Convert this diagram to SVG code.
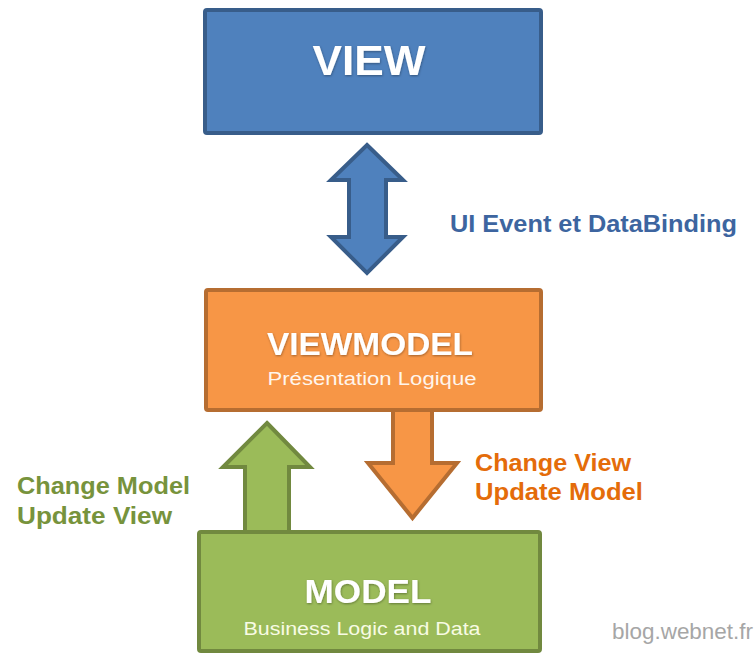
<svg xmlns="http://www.w3.org/2000/svg" width="756" height="655" viewBox="0 0 756 655">
<defs>
<style>
.title{font-family:"Liberation Sans",Arial,sans-serif;font-weight:bold;fill:#ffffff;text-anchor:middle;filter:url(#sh);}
.sub{font-family:"Liberation Sans",Arial,sans-serif;font-size:18px;text-anchor:middle;}
.lbl{font-family:"Liberation Sans",Arial,sans-serif;font-weight:bold;font-size:24px;}
.box{stroke-width:4;}
.arrow{stroke-width:4;stroke-linejoin:miter;}
</style>
<filter id="sh" x="-10%" y="-20%" width="120%" height="140%">
<feDropShadow dx="0.5" dy="1" stdDeviation="1" flood-color="#000000" flood-opacity="0.35"/>
</filter>
</defs>
<rect width="756" height="655" fill="#ffffff"/>
<g id="connectors">
<path class="arrow" d="M367,145 L403,180 L386,180 L386,237 L403,237 L367,273 L331,237 L349,237 L349,180 L331,180 Z" fill="#4f81bd" stroke="#385d8a"/>
<path class="arrow" d="M393,410 L432,410 L432,463 L457,463 L412.5,518 L368,463 L393,463 Z" fill="#f79646" stroke="#b66d31"/>
<path class="arrow" d="M267,423 L310,467 L289,467 L289,534 L245,534 L245,467 L223,467 Z" fill="#9bbb59" stroke="#71893f"/>
<text class="lbl" x="450" y="232" fill="#3d65a0" textLength="287" lengthAdjust="spacingAndGlyphs">UI Event et DataBinding</text>
<text class="lbl" x="475" y="471" fill="#e46c0a" textLength="156" lengthAdjust="spacingAndGlyphs">Change View</text>
<text class="lbl" x="475" y="500" fill="#e46c0a" textLength="168" lengthAdjust="spacingAndGlyphs">Update Model</text>
<text class="lbl" x="17" y="494" fill="#77933c" textLength="173" lengthAdjust="spacingAndGlyphs">Change Model</text>
<text class="lbl" x="17" y="524" fill="#77933c" textLength="155" lengthAdjust="spacingAndGlyphs">Update View</text>
</g>
<g id="view">
<rect class="box" x="205" y="10" width="336" height="123" rx="2" fill="#4f81bd" stroke="#385d8a"/>
<text class="title" x="369" y="75" font-size="42" textLength="113" lengthAdjust="spacingAndGlyphs">VIEW</text>
</g>
<g id="viewmodel">
<rect class="box" x="206" y="290" width="335" height="120" rx="2" fill="#f79646" stroke="#b66d31"/>
<text class="title" x="370" y="355" font-size="31" textLength="206" lengthAdjust="spacingAndGlyphs">VIEWMODEL</text>
<text class="sub" x="372" y="385" fill="#fff5ec" textLength="209" lengthAdjust="spacingAndGlyphs">Présentation  Logique</text>
</g>
<g id="model">
<rect class="box" x="199" y="532" width="341" height="119" rx="2" fill="#9bbb59" stroke="#71893f"/>
<text class="title" x="368" y="603" font-size="33" textLength="127" lengthAdjust="spacingAndGlyphs">MODEL</text>
<text class="sub" x="362" y="635" fill="#f8fbe4" textLength="237" lengthAdjust="spacingAndGlyphs">Business Logic and Data</text>
</g>
<text x="612" y="639" font-family="'Liberation Sans',Arial,sans-serif" font-size="22" fill="#a6a6a6" textLength="141" lengthAdjust="spacingAndGlyphs">blog.webnet.fr</text>
</svg>
